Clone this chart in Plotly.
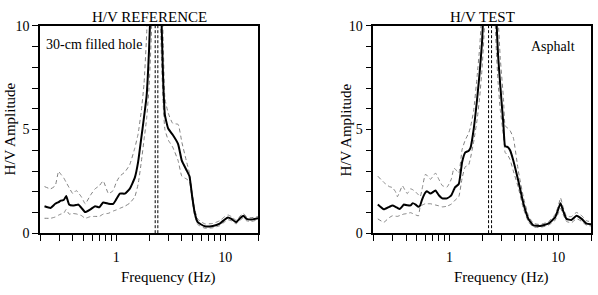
import plotly.graph_objects as go

# ---------------- data: H/V REFERENCE ----------------
ref_freq = [0.22, 0.25, 0.276, 0.296, 0.31, 0.33, 0.348, 0.37, 0.40, 0.43, 0.45, 0.48, 0.52, 0.58,
            0.64, 0.70, 0.76, 0.85, 0.94, 1.0, 1.08, 1.2, 1.33, 1.48, 1.59, 1.7, 1.8, 1.9, 2.0, 2.1,
            2.2, 2.35, 2.5, 2.6, 2.7, 2.8, 3.0, 3.3, 3.7, 4.0, 4.4, 4.7, 5.0, 5.25, 5.6, 6.5, 7.7,
            8.9, 9.9, 10.6, 11.4, 12.6, 13.5, 14.7, 15.7, 17.3, 20]
ref_mean = [1.30, 1.22, 1.42, 1.50, 1.57, 1.60, 1.79, 1.38, 1.33, 1.36, 1.38, 1.22, 1.02, 1.15,
            1.30, 1.25, 1.48, 1.42, 1.42, 1.63, 1.91, 1.91, 2.14, 2.67, 3.44, 4.6, 5.6, 6.6, 8.8, 12,
            18, 25, 16, 10.5, 7.3, 5.7, 5.05, 4.75, 4.3, 3.5, 3.06, 2.75, 1.7, 0.99, 0.53, 0.33, 0.35,
            0.46, 0.66, 0.76, 0.69, 0.53, 0.69, 0.84, 0.69, 0.66, 0.72]
ref_upper = [2.25, 2.14, 2.29, 2.98, 2.85, 2.67, 2.45, 2.2, 1.91, 2.06, 1.95, 1.75, 1.42, 1.83,
             2.14, 2.29, 2.52, 1.91, 2.06, 2.45, 2.75, 2.95, 3.3, 4.1, 4.8, 5.9, 7.2, 9.5, 13, 17,
             24, 30, 20, 13, 9.2, 6.5, 5.8, 5.3, 5.25, 4.4, 3.5, 2.9, 1.9, 1.15, 0.68, 0.45, 0.47,
             0.6, 0.8, 0.88, 0.8, 0.62, 0.8, 0.95, 0.8, 0.75, 0.8]
ref_lower = [0.72, 0.72, 0.78, 0.87, 0.92, 0.96, 1.15, 0.92, 0.95, 0.93, 0.9, 0.85, 0.72, 0.8,
             0.81, 0.81, 0.92, 0.96, 1.07, 1.12, 1.2, 1.3, 1.45, 1.75, 2.37, 3.44, 4.5, 5.5, 7.0, 9.5,
             14, 20, 12.5, 8.5, 6.2, 5.0, 4.5, 4.15, 3.5, 2.75, 2.62, 2.5, 1.5, 0.85, 0.42, 0.24, 0.26,
             0.36, 0.55, 0.65, 0.6, 0.45, 0.6, 0.74, 0.6, 0.57, 0.64]
ref_peak_lines = [2.28, 2.41]

# ---------------- data: H/V TEST ----------------
test_freq = [0.22, 0.25, 0.28, 0.30, 0.32, 0.333, 0.35, 0.37, 0.38, 0.41, 0.44, 0.46, 0.49, 0.52,
             0.54, 0.56, 0.60, 0.62, 0.67, 0.745, 0.80, 0.86, 0.95, 1.04, 1.10, 1.13, 1.22, 1.31,
             1.40, 1.50, 1.56, 1.67, 1.8, 1.9, 2.0, 2.1, 2.2, 2.35, 2.5, 2.6, 2.7, 2.8, 2.93, 3.14,
             3.25, 3.45, 3.61, 3.87, 4.3, 4.78, 5.32, 5.9, 6.8, 8.1, 9.35, 10.0, 10.5, 11.1, 11.9,
             13.2, 14.7, 16.4, 18.2, 20]
test_mean = [1.38, 1.15, 1.27, 1.33, 1.27, 1.22, 1.17, 1.30, 1.38, 1.35, 1.34, 1.45, 1.38, 1.27,
             1.35, 1.61, 1.95, 2.03, 1.91, 2.06, 1.83, 1.68, 1.68, 1.83, 2.10, 2.22, 2.37, 3.44,
             3.90, 3.97, 4.10, 5.0, 6.5, 7.8, 9.3, 12, 17, 25, 18, 13, 10.4, 8.6, 7.18, 5.2,
             4.2, 4.15, 4.0, 3.5, 2.52, 1.45, 0.69, 0.38, 0.35, 0.46, 0.76, 1.15, 1.45, 1.07, 0.69,
             0.64, 0.84, 0.69, 0.46, 0.43]
test_upper = [2.75, 2.45, 2.25, 2.2, 2.0, 1.76, 2.0, 2.29, 2.2, 1.91, 2.14, 2.1, 1.99, 1.85,
              1.76, 2.1, 2.83, 2.8, 2.6, 2.9, 2.6, 2.3, 2.22, 2.6, 3.13, 3.1, 2.9, 4.05,
              4.5, 4.82, 5.1, 5.9, 7.6, 9.0, 11, 14, 20, 30, 22, 16, 12.5, 10.5, 8.5, 6.5,
              5.2, 5.05, 4.95, 4.6, 3.0, 1.75, 0.85, 0.48, 0.42, 0.55, 0.9, 1.3, 1.7, 1.25, 0.82,
              0.8, 1.0, 0.85, 0.6, 0.55]
test_lower = [0.69, 0.53, 0.75, 0.84, 0.82, 0.81, 0.85, 0.9, 0.92, 0.95, 0.99, 0.95, 0.88, 0.84,
              1.30, 1.35, 1.42, 1.42, 1.42, 1.36, 1.32, 1.27, 1.3, 1.4, 1.53, 1.6, 1.76, 2.67,
              3.21, 3.28, 3.6, 4.4, 5.5, 6.6, 8.0, 10, 14, 20, 15, 11, 8.8, 7.3, 6.0, 4.7,
              3.9, 3.75, 3.55, 3.0, 2.2, 1.2, 0.55, 0.3, 0.28, 0.38, 0.62, 0.95, 1.2, 0.9, 0.57,
              0.5, 0.7, 0.57, 0.38, 0.35]
test_peak_lines = [2.29, 2.44]

x_tickvals = [0.2, 0.3, 0.4, 0.5, 0.6, 0.7, 0.8, 0.9, 1, 2, 3, 4, 5, 6, 7, 8, 9, 10, 20]
x_ticktext = ["", "", "", "", "", "", "", "", "1", "", "", "", "", "", "", "", "", "10", ""]
y_tickvals = [0, 1, 2, 3, 4, 5, 6, 7, 8, 9, 10]
y_ticktext = ["0", "", "", "", "", "5", "", "", "", "", "10"]

W, H = 598, 295
FONT = "Liberation Serif"

fig = go.Figure()

panels = [
    (ref_freq, ref_mean, ref_upper, ref_lower, ref_peak_lines, "x", "y"),
    (test_freq, test_mean, test_upper, test_lower, test_peak_lines, "x2", "y2"),
]
for f, m, u, l, pk, xa, ya in panels:
    for v in pk:
        fig.add_trace(go.Scatter(x=[v, v], y=[0, 10], mode="lines", xaxis=xa, yaxis=ya,
                                 line=dict(color="black", width=1, dash="3px,2px"),
                                 showlegend=False, hoverinfo="skip"))
    for s in (u, l):
        fig.add_trace(go.Scatter(x=f, y=s, mode="lines", xaxis=xa, yaxis=ya,
                                 line=dict(color="#808080", width=1, dash="4px,3px", shape="spline",
                                           smoothing=0.4),
                                 showlegend=False))
    fig.add_trace(go.Scatter(x=f, y=m, mode="lines", xaxis=xa, yaxis=ya,
                             line=dict(color="black", width=2, shape="spline", smoothing=0.4),
                             showlegend=False))

def px(x):
    return x / W

def py(y):
    return 1 - y / H

ydom = [py(238.3), py(20)]
xdom1 = [px(40), px(258)]
xdom2 = [px(373.3), px(591)]

xaxis_common = dict(type="log", range=[-0.69897, 1.30103], tickvals=x_tickvals, ticktext=x_ticktext,
                    ticks="outside", ticklen=6, tickwidth=1, tickcolor="black",
                    showline=True, linewidth=1.5, linecolor="black", mirror=True,
                    showgrid=False, zeroline=False, ticklabelstandoff=4,
                    tickfont=dict(family=FONT, size=14, color="black"))
yaxis_common = dict(range=[0, 10], tickvals=y_tickvals, ticktext=y_ticktext,
                    ticks="outside", ticklen=6, tickwidth=1, tickcolor="black",
                    showline=True, linewidth=1.5, linecolor="black", mirror=True,
                    showgrid=False, zeroline=False,
                    tickfont=dict(family=FONT, size=14, color="black"))

fig.update_layout(
    width=W, height=H,
    margin=dict(l=0, r=0, t=0, b=0),
    paper_bgcolor="white", plot_bgcolor="white",
    font=dict(family=FONT, color="black"),
    xaxis=dict(domain=xdom1, anchor="y", **xaxis_common),
    yaxis=dict(domain=ydom, anchor="x", **yaxis_common),
    xaxis2=dict(domain=xdom2, anchor="y2", **xaxis_common),
    yaxis2=dict(domain=ydom, anchor="x2", **yaxis_common),
    showlegend=False,
)

def ann(text, x, y, size, xanchor="center", angle=0):
    fig.add_annotation(text=text, x=px(x), y=py(y), xref="paper", yref="paper",
                       xanchor=xanchor, yanchor="middle", showarrow=False, textangle=angle,
                       font=dict(family=FONT, size=size, color="black"))

ann("H/V REFERENCE", 149, 11, 15)
ann("H/V TEST", 482, 11, 15)
ann("30-cm filled hole", 44, 39, 14, xanchor="left")
ann("Asphalt", 577, 42, 14, xanchor="right")
ann("Frequency (Hz)", 168, 285, 15)
ann("Frequency (Hz)", 501, 285, 15)
ann("H/V Amplitude", 10, 129, 15, angle=-90)
ann("H/V Amplitude", 346, 129, 15, angle=-90)

fig.write_html("out.html")
